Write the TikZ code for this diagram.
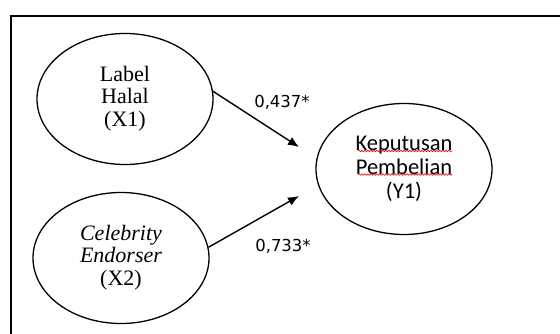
\documentclass[tikz,border=0pt]{standalone}
\usepackage{fontspec}
\setmainfont{Liberation Serif}
\newfontfamily\calibri{Carlito}
\newfontfamily\verdana{DejaVu Sans}
\usetikzlibrary{arrows.meta,shapes.geometric,decorations.pathmorphing}

\begin{document}
\begin{tikzpicture}[x=1pt,y=-1pt,semithick]
  \tikzstyle{construct}=[draw=black,ellipse,line width=1.3pt,minimum width=176pt,minimum height=131pt,inner sep=0pt,align=center]
  \tikzstyle{serif}=[font=\fontsize{22}{22.5}\selectfont]
  \tikzstyle{sans}=[font=\calibri\fontsize{22.5}{24}\selectfont]
  \tikzstyle{coef}=[font=\verdana\fontsize{16.5}{18}\selectfont]
  \tikzstyle{path}=[-{Latex[length=11pt,width=9pt]},line width=1.4pt]
  \tikzstyle{spell}=[draw=red,decorate,decoration={snake,amplitude=0.8pt,segment length=3pt},line width=0.6pt]

  \useasboundingbox (0,0) rectangle (560,334);
  \draw[line width=2.6pt] (11,16) rectangle (575,350); % frame

  \node[construct,serif] (X1) at (125,99) {Label\\Halal\\(X1)\\[-17pt]};
  \node[construct,serif] (X2) at (121,258) {\textit{Celebrity}\\\textit{Endorser}\\(X2)\\[-17pt]};
  \node[construct,sans]  (Y1) at (404,169) {Keputusan\\Pembelian\\(Y1)};

  \coordinate (t1) at (299,147);
  \coordinate (t2) at (299,196);
  \draw[path] (X1.5) -- (t1);
  \draw[path] (X2.7) -- (t2);

  \node[coef] (b1) at (282,102) {0,437*};
  \node[coef] (b2) at (283,246) {0,733*};

  % spelling marks
  \draw[spell] (358,151) -- (452,151);
  \draw[spell] (358,174.5) -- (452,174.5);
\end{tikzpicture}
\end{document}
